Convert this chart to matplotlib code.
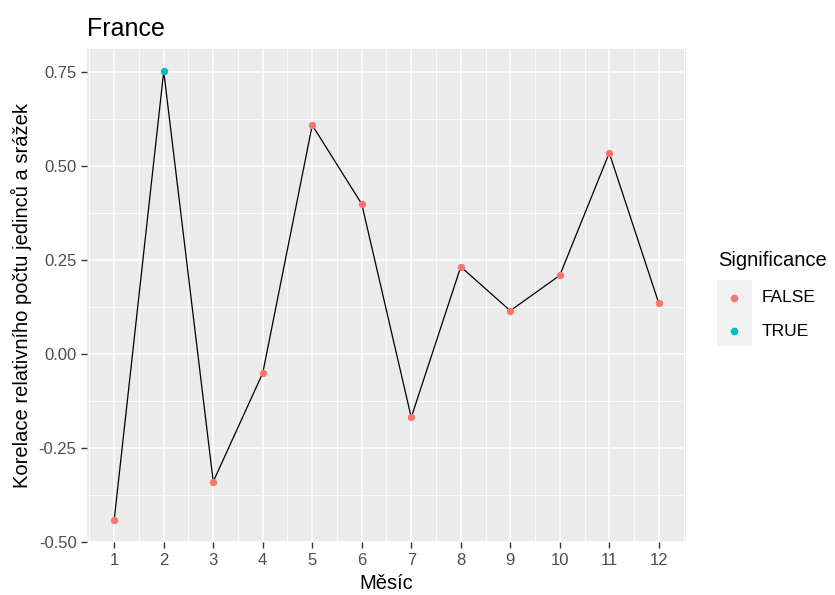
import numpy as np
import matplotlib.pyplot as plt
from matplotlib.lines import Line2D
from matplotlib.patches import Rectangle

plt.rcParams['font.family'] = ['Liberation Sans', 'DejaVu Sans']

months = [1, 2, 3, 4, 5, 6, 7, 8, 9, 10, 11, 12]
corr = [-0.441, 0.752, -0.340, -0.051, 0.609, 0.399, -0.169, 0.232, 0.115, 0.209, 0.535, 0.135]
significant = [False, True, False, False, False, False, False, False, False, False, False, False]
y_ticks = [-0.50, -0.25, 0.00, 0.25, 0.50, 0.75]
legend_labels = ['FALSE', 'TRUE']

col_false = '#F8766D'
col_true = '#00BFC4'

W, H = 835, 595
fig = plt.figure(figsize=(W / 100, H / 100), dpi=100)
ax = fig.add_axes([87 / W, 1 - 542 / H, (686 - 87) / W, (542 - 49) / H])
ax.set_facecolor('#EBEBEB')

# ggplot style grid
for y in y_ticks:
    ax.axhline(y, color='white', lw=1.1, zorder=1)
for y in np.array(y_ticks[:-1]) + 0.125:
    ax.axhline(y, color='white', lw=0.55, zorder=1)
for x in months:
    ax.axvline(x, color='white', lw=1.1, zorder=1)
for x in np.arange(0.5, 13, 1):
    ax.axvline(x, color='white', lw=0.55, zorder=1)

ax.plot(months, corr, color='black', lw=0.9, zorder=2)
m = np.array(months)
c = np.array(corr)
s = np.array(significant)
ax.scatter(m[~s], c[~s], s=28, color=col_false, zorder=3, linewidths=0)
ax.scatter(m[s], c[s], s=28, color=col_true, zorder=3, linewidths=0)

lo, hi = min(corr), max(corr)
pad = (hi - lo) * 0.05
ax.set_ylim(lo - pad, hi + pad)
ax.set_xlim(1 - 11 * 0.05, 12 + 11 * 0.05)

ax.set_xticks(months)
ax.set_xticklabels([str(v) for v in months])
ax.set_yticks(y_ticks)
ax.set_yticklabels(['%.2f' % v for v in y_ticks])
ax.tick_params(colors='#333333', labelcolor='#4D4D4D', labelsize=12, length=4, width=1)
ax.tick_params(axis='x', pad=4)
for sp in ax.spines.values():
    sp.set_visible(False)

ax.set_xlabel('Měsíc', fontsize=14.5, labelpad=4)
ax.set_ylabel('Korelace relativního počtu jedinců a srážek', fontsize=14.5, labelpad=5)
ax.set_title('France', fontsize=18, loc='left', pad=9)

# legend drawn by hand, ggplot style
fig.text(718 / W, 1 - 260 / H, 'Significance', fontsize=14.5, va='center', ha='left')
fig.patches.append(Rectangle((717 / W, 1 - 346 / H), 35 / W, 66 / H,
                             transform=fig.transFigure, facecolor='#F2F2F2',
                             edgecolor='none', zorder=0))
for i, (lab, col) in enumerate(zip(legend_labels, [col_false, col_true])):
    yy = 1 - (298 + 33 * i) / H
    fig.add_artist(Line2D([734 / W], [yy], marker='o', ls='', color=col,
                          markersize=5.5, markeredgewidth=0, transform=fig.transFigure))
    fig.text(762 / W, yy, lab, fontsize=12.5, va='center', ha='left')

fig.savefig('out.png', dpi=100)
